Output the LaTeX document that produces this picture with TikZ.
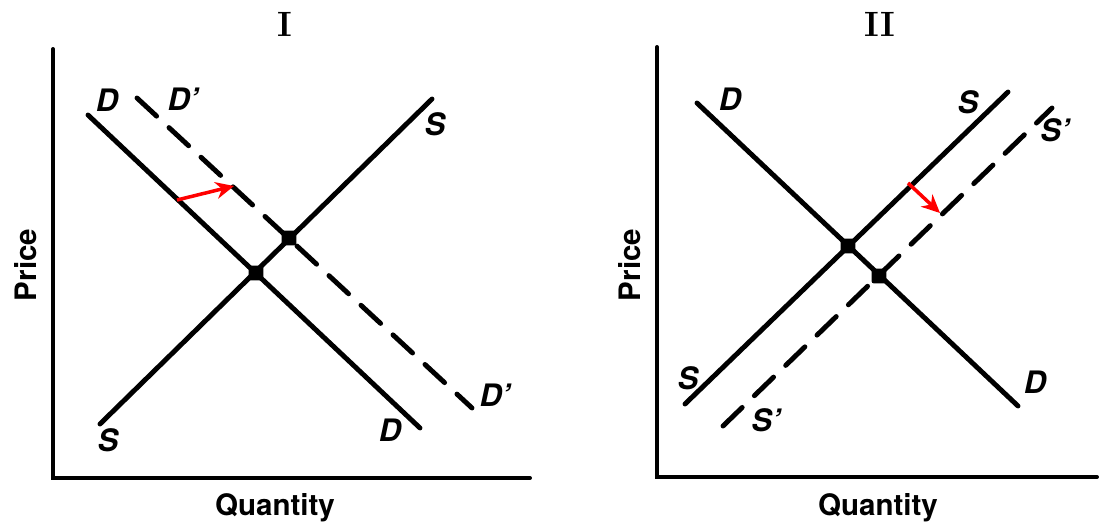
\documentclass[tikz,border=0pt]{standalone}
\usepackage{fontspec}
\setsansfont{TeX Gyre Heros}
\usetikzlibrary{arrows.meta}

\begin{document}
\begin{tikzpicture}[x=0.025cm, y=-0.025cm, >=Stealth,
      axis/.style={line width=2.8pt, line cap=round},
      curve/.style={line width=3.5pt, line cap=round},
      shifted/.style={curve, dash pattern=on 19pt off 12pt},
      lbl/.style={font=\fontsize{22}{22}\selectfont\sffamily\bfseries\itshape, inner sep=0pt},
      ttl/.style={font=\fontsize{25}{25}\selectfont\rmfamily\bfseries, inner sep=0pt},
      axlbl/.style={font=\fontsize{21}{21}\selectfont\sffamily\bfseries, inner sep=0pt},
      eqpt/.style={rectangle, rounded corners=1.5pt, fill, inner sep=0pt, minimum size=10.5pt},
      shiftarr/.style={-{Stealth[length=13pt, width=12pt]}, red, line width=2.5pt}]
    \useasboundingbox (0,0) rectangle (1100,527);
    % panel I: demand shifts right
    \coordinate (oI) at (53,478);
    \coordinate (yI) at (53,49);
    \coordinate (xI) at (530,478);
    \draw[axis] (yI) -- (oI) -- (xI);
    \node[ttl] (tI) at (285,24) {I};
    \node[axlbl, rotate=90] (pI) at (26,265) {Price};
    \node[axlbl] (qI) at (275,508) {Quantity};
    \coordinate (d1) at (88,115);
    \coordinate (d2) at (420,428);
    \coordinate (dd1) at (137,98);
    \coordinate (dd2) at (472,408);
    \coordinate (s1) at (100,424);
    \coordinate (s2) at (432,99);
    \draw[curve] (d1) -- (d2);
    \draw[curve] (s1) -- (s2);
    \draw[shifted] (dd1) -- (dd2);
    \node[eqpt] (eI) at (256,273) {};
    \node[eqpt] (eI') at (289,238) {};
    \coordinate (aI1) at (177,200);
    \coordinate (aI2) at (234,186);
    \draw[shiftarr] (aI1) -- (aI2);
    \node[lbl] (ld1) at (107,100) {D};
    \node[lbl] (ldd1) at (183,99) {D'};
    \node[lbl] (ls2) at (435,124) {S};
    \node[lbl] (ls1) at (108,440) {S};
    \node[lbl] (ld2) at (390,430) {D};
    \node[lbl] (ldd2) at (495,395) {D'};
    % panel II: supply shifts right
    \coordinate (oII) at (657,477);
    \coordinate (yII) at (657,47);
    \coordinate (xII) at (1097,477);
    \draw[axis] (yII) -- (oII) -- (xII);
    \node[ttl] (tII) at (880,24) {II};
    \node[axlbl, rotate=90] (pII) at (630,265) {Price};
    \node[axlbl] (qII) at (878,508) {Quantity};
    \coordinate (e1) at (697,103);
    \coordinate (e2) at (1018,406);
    \coordinate (u1) at (685,404);
    \coordinate (u2) at (1008,92);
    \coordinate (uu1) at (723,426);
    \coordinate (uu2) at (1052,108);
    \draw[curve] (e1) -- (e2);
    \draw[curve] (u1) -- (u2);
    \draw[shifted] (uu1) -- (uu2);
    \node[eqpt] (eII) at (848,246) {};
    \node[eqpt] (eII') at (879,276) {};
    \coordinate (aII1) at (908,183);
    \coordinate (aII2) at (940,213);
    \draw[shiftarr] (aII1) -- (aII2);
    \node[lbl] (le1) at (730,99) {D};
    \node[lbl] (lu2) at (968,102) {S};
    \node[lbl] (luu2) at (1055,130) {S'};
    \node[lbl] (lu1) at (688,378) {S};
    \node[lbl] (luu1) at (766,420) {S'};
    \node[lbl] (le2) at (1035,382) {D};
  \end{tikzpicture}
\end{document}
